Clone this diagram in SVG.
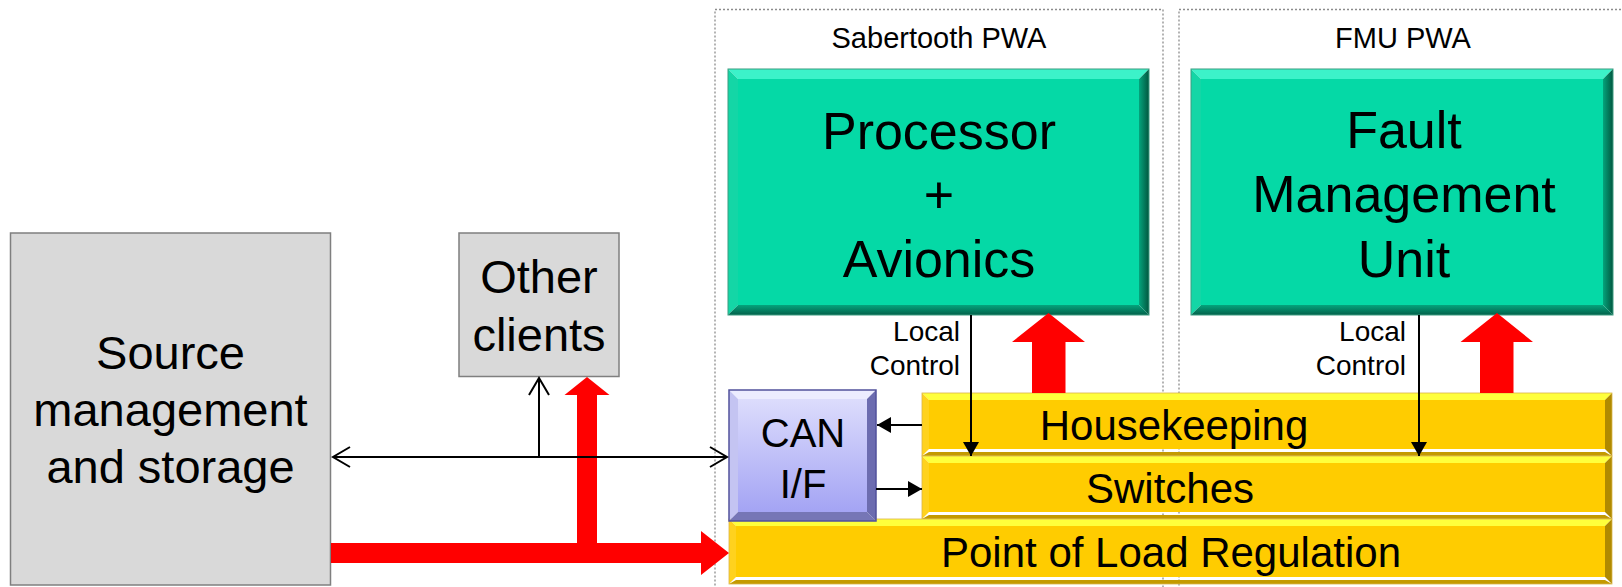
<svg xmlns="http://www.w3.org/2000/svg" width="1622" height="587" viewBox="0 0 1622 587">
<defs>
<style>
text{font-family:"Liberation Sans",Arial,Helvetica,sans-serif;fill:#000;text-anchor:middle}
.cont{fill:none;stroke:#8c8c8c;stroke-width:1.3;stroke-dasharray:2 2}
.gray{fill:#d9d9d9;stroke:#7f7f7f;stroke-width:1.5}
.g-face{fill:#05d9a6}
.g-top{fill:#3cf2c9}
.g-left{fill:#14d6a6}
.g-right{fill:url(#gR)}
.g-bot{fill:url(#gB)}
.g-out{fill:none;stroke:#3a9c80;stroke-width:1}
.y-face{fill:#ffcc00}
.y-top{fill:#ffff3c}
.y-left{fill:#ffd21e}
.y-right{fill:#b08a00}
.y-bot{fill:#c49a00}
.y-out{fill:none;stroke:#d9b34a;stroke-width:0.8}
.c-face{fill:url(#cF)}
.c-top{fill:#ececff}
.c-left{fill:#c4c4f2}
.c-right{fill:#6c6cb0}
.c-bot{fill:#7676b6}
.c-out{fill:none;stroke:#52529c;stroke-width:1.5}
.red{fill:#ff0000}
.ln{fill:none;stroke:#000;stroke-width:2}
.t-sm{font-size:29px}
.t-lc{font-size:28px;text-anchor:end}
.t-big{font-size:52px}
.t-gray{font-size:47px}
.t-can{font-size:40px}
.t-bar{font-size:42px}
</style>
<linearGradient id="gR" x1="0" y1="0" x2="1" y2="0">
<stop offset="0" stop-color="#04a47c"/><stop offset="1" stop-color="#02563f"/>
</linearGradient>
<linearGradient id="gB" x1="0" y1="0" x2="0" y2="1">
<stop offset="0" stop-color="#04a47c"/><stop offset="1" stop-color="#03604a"/>
</linearGradient>
<linearGradient id="cF" x1="0" y1="0" x2="0" y2="1">
<stop offset="0" stop-color="#dcdcfc"/><stop offset="1" stop-color="#a4a4f4"/>
</linearGradient>
<marker id="fa" markerUnits="userSpaceOnUse" viewBox="0 0 14 16" markerWidth="14" markerHeight="16" refX="14" refY="8" orient="auto">
<path d="M0,0 L14,8 L0,16 z" fill="#000"/>
</marker>
<marker id="oa" markerUnits="userSpaceOnUse" viewBox="-2 -2 21 24" markerWidth="21" markerHeight="24" refX="17" refY="10" orient="auto-start-reverse">
<path d="M0,0 L17,10 L0,20" fill="none" stroke="#000" stroke-width="2"/>
</marker>
</defs>
<rect width="1622" height="587" fill="#fff"/>

<g id="sabertooth-pwa">
<rect class="cont" x="715" y="9.5" width="448" height="620"/>
<text class="t-sm" x="939" y="48">Sabertooth PWA</text>
</g>
<g id="fmu-pwa">
<rect class="cont" x="1179" y="9.5" width="480" height="620"/>
<text class="t-sm" x="1403" y="48">FMU PWA</text>
</g>

<g id="source">
<rect class="gray" x="10.5" y="233" width="320" height="352"/>
<text class="t-gray" x="170.5" y="369">Source</text>
<text class="t-gray" x="170.5" y="426">management</text>
<text class="t-gray" x="170.5" y="483">and storage</text>
</g>

<g id="other-clients">
<rect class="gray" x="459" y="233" width="160" height="143.5"/>
<text class="t-gray" x="539" y="293">Other</text>
<text class="t-gray" x="539" y="351">clients</text>
</g>

<g id="processor">
<rect class="g-face" x="738" y="79" width="401" height="226"/>
<polygon class="g-top" points="728,69 1149,69 1139,79 738,79"/>
<polygon class="g-left" points="728,69 738,79 738,305 728,315"/>
<polygon class="g-right" points="1149,69 1139,79 1139,305 1149,315"/>
<polygon class="g-bot" points="728,315 1149,315 1139,305 738,305"/>
<rect class="g-out" x="728" y="69" width="421" height="246"/>
<text class="t-big" x="939" y="149">Processor</text>
<text class="t-big" x="939" y="213">+</text>
<text class="t-big" x="939" y="277">Avionics</text>
</g>

<g id="fmu">
<rect class="g-face" x="1201" y="79" width="402" height="226"/>
<polygon class="g-top" points="1191,69 1613,69 1603,79 1201,79"/>
<polygon class="g-left" points="1191,69 1201,79 1201,305 1191,315"/>
<polygon class="g-right" points="1613,69 1603,79 1603,305 1613,315"/>
<polygon class="g-bot" points="1191,315 1613,315 1603,305 1201,305"/>
<rect class="g-out" x="1191" y="69" width="422" height="246"/>
<text class="t-big" x="1404" y="148">Fault</text>
<text class="t-big" x="1404" y="212">Management</text>
<text class="t-big" x="1404" y="277">Unit</text>
</g>

<g id="housekeeping">
<rect class="y-face" x="929" y="400" width="676" height="49"/>
<polygon class="y-top" points="922,393 1612,393 1605,400 929,400"/>
<polygon class="y-left" points="922,393 929,400 929,449 922,456"/>
<polygon class="y-right" points="1612,393 1605,400 1605,449 1612,456"/>
<polygon class="y-bot" points="922,456 1612,456 1605,452 929,452"/>
<rect class="y-out" x="922" y="393" width="690" height="63"/>
<text class="t-bar" x="1174" y="440">Housekeeping</text>
</g>

<g id="switches">
<rect class="y-face" x="929" y="463" width="676" height="49"/>
<polygon class="y-top" points="922,456 1612,456 1605,463 929,463"/>
<polygon class="y-left" points="922,456 929,463 929,512 922,519"/>
<polygon class="y-right" points="1612,456 1605,463 1605,512 1612,519"/>
<polygon class="y-bot" points="922,519 1612,519 1605,515 929,515"/>
<rect class="y-out" x="922" y="456" width="690" height="63"/>
<text class="t-bar" x="1170" y="503">Switches</text>
</g>

<g id="point-of-load">
<rect class="y-face" x="736" y="526" width="869" height="51"/>
<polygon class="y-top" points="729,519 1612,519 1605,526 736,526"/>
<polygon class="y-left" points="729,519 736,526 736,577 729,584"/>
<polygon class="y-right" points="1612,519 1605,526 1605,577 1612,584"/>
<polygon class="y-bot" points="729,584 1612,584 1605,580 736,580"/>
<rect class="y-out" x="729" y="519" width="883" height="65"/>
<text class="t-bar" x="1171" y="567">Point of Load Regulation</text>
</g>

<g id="can-if">
<rect class="c-face" x="738" y="399" width="129" height="113"/>
<polygon class="c-top" points="729,390 876,390 867,399 738,399"/>
<polygon class="c-left" points="729,390 738,399 738,512 729,521"/>
<polygon class="c-right" points="876,390 867,399 867,512 876,521"/>
<polygon class="c-bot" points="729,521 876,521 867,512 738,512"/>
<rect class="c-out" x="729" y="390" width="147" height="131"/>
<text class="t-can" x="803" y="447">CAN</text>
<text class="t-can" x="803" y="498">I/F</text>
</g>

<g id="connectors">
<polygon class="red" points="331,543 577,543 577,395 564.5,395 587,377 609.5,395 597,395 597,543 701,543 701,531 729,553 701,575 701,563 331,563"/>
<polygon class="red" points="1032,393 1032,342 1012,342 1048.5,313 1085,342 1065.5,342 1065.5,393"/>
<polygon class="red" points="1480,393 1480,342 1460.5,342 1497,313 1533,342 1513.5,342 1513.5,393"/>
<line class="ln" x1="333" y1="457" x2="727" y2="457" marker-start="url(#oa)" marker-end="url(#oa)"/>
<line class="ln" x1="539" y1="457" x2="539" y2="378" marker-end="url(#oa)"/>
<line class="ln" x1="971" y1="315" x2="971" y2="456" marker-end="url(#fa)"/>
<line class="ln" x1="1419" y1="315" x2="1419" y2="456" marker-end="url(#fa)"/>
<line class="ln" x1="922" y1="425" x2="877" y2="425" marker-end="url(#fa)"/>
<line class="ln" x1="876" y1="489" x2="922" y2="489" marker-end="url(#fa)"/>
<text class="t-lc" x="960" y="341">Local</text>
<text class="t-lc" x="960" y="375">Control</text>
<text class="t-lc" x="1406" y="341">Local</text>
<text class="t-lc" x="1406" y="375">Control</text>
</g>
</svg>
